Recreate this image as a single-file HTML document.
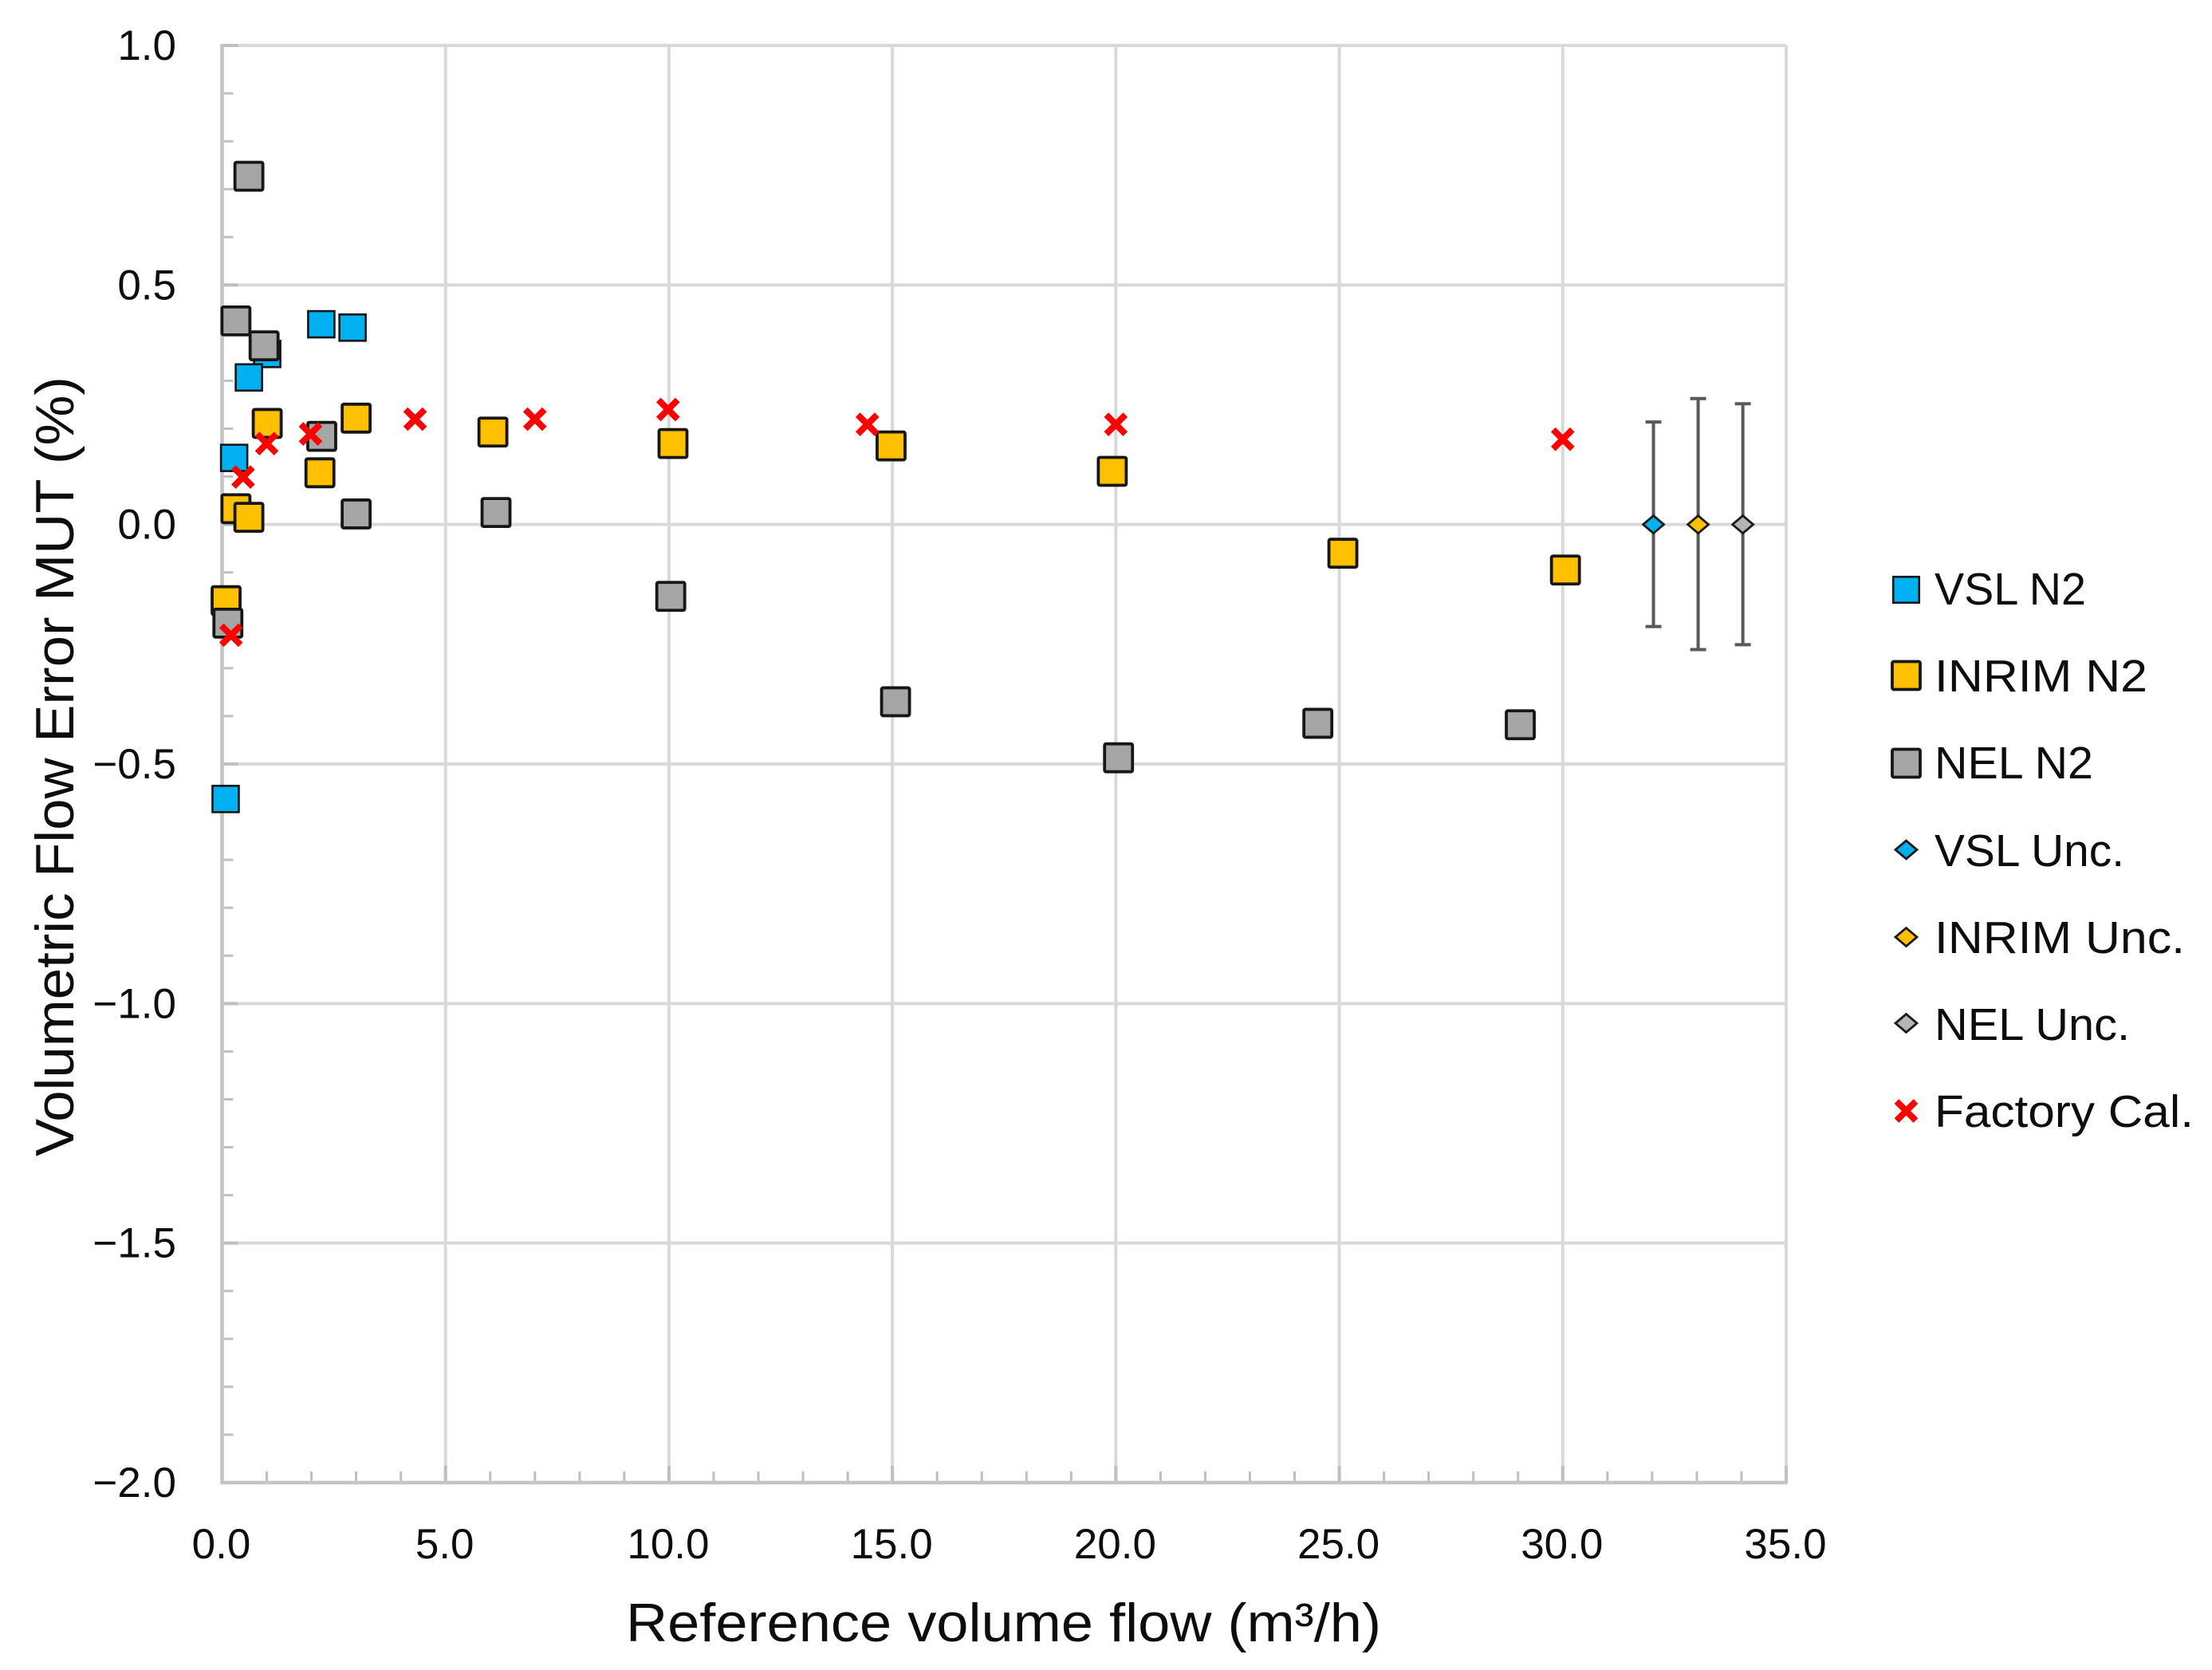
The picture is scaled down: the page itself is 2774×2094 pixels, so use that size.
<!DOCTYPE html>
<html lang="en">
<head>
<meta charset="utf-8">
<title>Volumetric Flow Error vs Reference Volume Flow</title>
<style>
html,body{margin:0;padding:0;background:#fff;width:2774px;height:2094px;overflow:hidden}
svg{display:block}
text{font-family:"Liberation Sans",Arial,sans-serif;fill:#0d0d0d}
</style>
</head>
<body>
<svg id="chart" xmlns="http://www.w3.org/2000/svg" width="2774" height="2094" viewBox="0 0 2774 2094">
  <rect x="0" y="0" width="2774" height="2094" fill="#ffffff"/>
  <g id="grid"></g>
  <g id="axes"></g>
  <g id="marks"></g>
  <text x="785" y="2058" font-size="68" textLength="947" lengthAdjust="spacingAndGlyphs">Reference volume flow (m³/h)</text>
  <text transform="translate(92,1450) rotate(-90)" font-size="68" textLength="978" lengthAdjust="spacingAndGlyphs">Volumetric Flow Error MUT (%)</text>
  <g id="legend"></g>
</svg>
<script>
// Axis ranges and ticks
const xDomain = [0, 35];
const yDomain = [-2, 1];
const xTickValues = [0, 5, 10, 15, 20, 25, 30, 35];
const xTickLabels = ['0.0', '5.0', '10.0', '15.0', '20.0', '25.0', '30.0', '35.0'];
const yTickValues = [1, 0.5, 0, -0.5, -1, -1.5, -2];
const yTickLabels = ['1.0', '0.5', '0.0', '\u22120.5', '\u22121.0', '\u22121.5', '\u22122.0'];
const xMinorStep = 1;
const yMinorStep = 0.1;

// Series values
const vslX = [2.22, 2.92, 1.01, 0.60, 0.27, 0.08];
const vslY = [0.418, 0.411, 0.356, 0.307, 0.139, -0.573];
const inrimX = [1.01, 3.0, 2.19, 0.31, 0.60, 0.09, 6.06, 10.09, 14.97, 19.92, 25.08, 30.06];
const inrimY = [0.211, 0.222, 0.108, 0.033, 0.015, -0.159, 0.193, 0.169, 0.164, 0.111, -0.06, -0.095];
const nelX = [0.31, 0.94, 2.23, 3.0, 0.13, 0.60, 6.13, 10.04, 15.07, 20.06, 24.52, 29.05];
const nelY = [0.425, 0.373, 0.184, 0.022, -0.206, 0.727, 0.025, -0.15, -0.37, -0.487, -0.415, -0.418];
const factoryX = [0.47, 1.0, 1.98, 4.32, 7.0, 9.98, 14.44, 20.0, 30.0, 0.2];
const factoryY = [0.099, 0.169, 0.189, 0.22, 0.22, 0.24, 0.209, 0.209, 0.178, -0.231];
const uncNames = ['VSL', 'INRIM', 'NEL'];
const uncX = [32.03, 33.03, 34.03];
const uncY = [0, 0, 0];
const uncPlus = [0.214, 0.263, 0.252];
const uncMinus = [0.213, 0.261, 0.251];
const legendLabels = ['VSL N2', 'INRIM N2', 'NEL N2', 'VSL Unc.', 'INRIM Unc.', 'NEL Unc.', 'Factory Cal.'];

const NS = 'http://www.w3.org/2000/svg';
const plotLeft = 278.5, plotRight = 2240, plotTop = 57, plotBottom = 1859;
function xScale(v) { return plotLeft + (v - xDomain[0]) / (xDomain[1] - xDomain[0]) * (plotRight - plotLeft); }
function yScale(v) { return plotBottom - (v - yDomain[0]) / (yDomain[1] - yDomain[0]) * (plotBottom - plotTop); }
function make(parent, tag, attrs) {
  const el = document.createElementNS(NS, tag);
  for (const k in attrs) el.setAttribute(k, attrs[k]);
  parent.appendChild(el);
  return el;
}
const grid = document.getElementById('grid');
const axes = document.getElementById('axes');
const marks = document.getElementById('marks');
const legend = document.getElementById('legend');
const gridColor = '#d9d9d9', axisColor = '#c4c4c4', tickColor = '#bfbfbf';

// Gridlines and major ticks
xTickValues.forEach(function (v, i) {
  if (v !== xDomain[0]) {
    const g = make(grid, 'line', {x1: xScale(v), x2: xScale(v), y1: plotTop, y2: plotBottom, stroke: gridColor, 'stroke-width': 4});
    
    
    const t = make(axes, 'line', {x1: xScale(v), x2: xScale(v), y1: plotBottom - 21, y2: plotBottom, stroke: tickColor, 'stroke-width': 4});
    
    
  }
  const label = make(axes, 'text', {x: xScale(v) - 1, y: 1954, 'font-size': 53, 'text-anchor': 'middle'});
  label.textContent = xTickLabels[i];
  
  
});
yTickValues.forEach(function (v, i) {
  if (v !== yDomain[0]) {
    const g = make(grid, 'line', {x1: plotLeft, x2: plotRight, y1: yScale(v), y2: yScale(v), stroke: gridColor, 'stroke-width': 4});
    
    
    const t = make(axes, 'line', {x1: plotLeft, x2: plotLeft + 20, y1: yScale(v), y2: yScale(v), stroke: tickColor, 'stroke-width': 4});
    
    
  }
  const label = make(axes, 'text', {x: 221, y: yScale(v) + 18, 'font-size': 53, 'text-anchor': 'end'});
  label.textContent = yTickLabels[i];
  
  
});

// Minor ticks
for (let n = 1; n * xMinorStep < xDomain[1]; n++) {
  const v = n * xMinorStep;
  if (xTickValues.indexOf(v) >= 0) continue;
  const t = make(axes, 'line', {x1: xScale(v), x2: xScale(v), y1: plotBottom - 14, y2: plotBottom, stroke: tickColor, 'stroke-width': 3});
  
  
}
for (let n = 1; n < Math.round((yDomain[1] - yDomain[0]) / yMinorStep); n++) {
  const v = yDomain[0] + n * yMinorStep;
  if (n % 5 === 0) continue;
  const t = make(axes, 'line', {x1: plotLeft, x2: plotLeft + 14, y1: yScale(v), y2: yScale(v), stroke: tickColor, 'stroke-width': 3});
  
  
}

// Axis lines
const yAxisLine = make(axes, 'line', {x1: plotLeft, x2: plotLeft, y1: plotTop - 2, y2: plotBottom + 2, stroke: axisColor, 'stroke-width': 4.5});


const xAxisLine = make(axes, 'line', {x1: plotLeft - 2, x2: plotRight + 2, y1: plotBottom, y2: plotBottom, stroke: axisColor, 'stroke-width': 4.5});



// Marker shapes
function squareAt(parent, cx, cy, size, fill, sw) {
  return make(parent, 'rect', {x: cx - size / 2, y: cy - size / 2, width: size, height: size, rx: sw > 3 ? 2 : 0, fill: fill, stroke: '#161616', 'stroke-width': sw});
}
function diamondAt(parent, cx, cy, r, fill) {
  return make(parent, 'path', {d: 'M' + (cx - r) + ' ' + cy + 'L' + cx + ' ' + (cy - r * 0.85) + 'L' + (cx + r) + ' ' + cy + 'L' + cx + ' ' + (cy + r * 0.85) + 'Z', fill: fill, stroke: '#1a1a1a', 'stroke-width': 2.8});
}
function crossAt(parent, cx, cy, r) {
  return make(parent, 'path', {d: 'M' + (cx - r) + ' ' + (cy - r) + 'L' + (cx + r) + ' ' + (cy + r) + 'M' + (cx + r) + ' ' + (cy - r) + 'L' + (cx - r) + ' ' + (cy + r), fill: 'none', stroke: '#ff0000', 'stroke-width': 8});
}

const colVsl = '#00b0f0', colInrim = '#ffc000', colNel = '#a6a6a6', colNelUnc = '#b4b4b4';

// Series: VSL N2
vslX.forEach(function (v, i) {
  const m = squareAt(marks, xScale(v), yScale(vslY[i]), 33, colVsl, 2.6);
  
  
});
// Series: INRIM N2
inrimX.forEach(function (v, i) {
  const m = squareAt(marks, xScale(v), yScale(inrimY[i]), 35, colInrim, 3.8);
  
  
});
// Series: NEL N2
nelX.forEach(function (v, i) {
  const m = squareAt(marks, xScale(v), yScale(nelY[i]), 35, colNel, 3.8);
  
  
});
// Series: uncertainty points with error bars
const uncColors = [colVsl, colInrim, colNelUnc];
uncX.forEach(function (v, i) {
  const cx = xScale(v), top = yScale(uncY[i] + uncPlus[i]), bot = yScale(uncY[i] - uncMinus[i]);
  const bar = make(marks, 'path', {d: 'M' + cx + ' ' + top + 'V' + bot + 'M' + (cx - 10) + ' ' + top + 'H' + (cx + 10) + 'M' + (cx - 10) + ' ' + bot + 'H' + (cx + 10), fill: 'none', stroke: '#595959', 'stroke-width': 4});
  
  
  const d = diamondAt(marks, cx, yScale(uncY[i]), 13, uncColors[i]);
  
  
});
// Series: Factory Cal.
factoryX.forEach(function (v, i) {
  const m = crossAt(marks, xScale(v), yScale(factoryY[i]), 12);
  
  
});

// Legend
const legendSymbolX = 2390.5;
const legendRowY = [739.5, 847, 957, 1065.5, 1175, 1283, 1393];
const legendBaseY = [758, 867, 976, 1086, 1195, 1304, 1413];
const legendLen = [189, 266, 198, 237, 313, 244, 324];
legendLabels.forEach(function (name, i) {
  const cy = legendRowY[i];
  let sym;
  if (i === 0) sym = squareAt(legend, legendSymbolX, cy, 32.5, colVsl, 2.6);
  else if (i === 1) sym = squareAt(legend, legendSymbolX, cy, 35, colInrim, 3.8);
  else if (i === 2) sym = squareAt(legend, legendSymbolX, cy, 35, colNel, 3.8);
  else if (i === 3) sym = diamondAt(legend, legendSymbolX, cy, 13.5, colVsl);
  else if (i === 4) sym = diamondAt(legend, legendSymbolX, cy, 13.5, colInrim);
  else if (i === 5) sym = diamondAt(legend, legendSymbolX, cy, 13.5, colNelUnc);
  else sym = crossAt(legend, legendSymbolX, cy, 12);
  
  
  const t = make(legend, 'text', {x: 2426, y: legendBaseY[i], 'font-size': 57, textLength: legendLen[i] + 1, lengthAdjust: 'spacingAndGlyphs'});
  t.textContent = name;
  
  
});
</script>
</body>
</html>
